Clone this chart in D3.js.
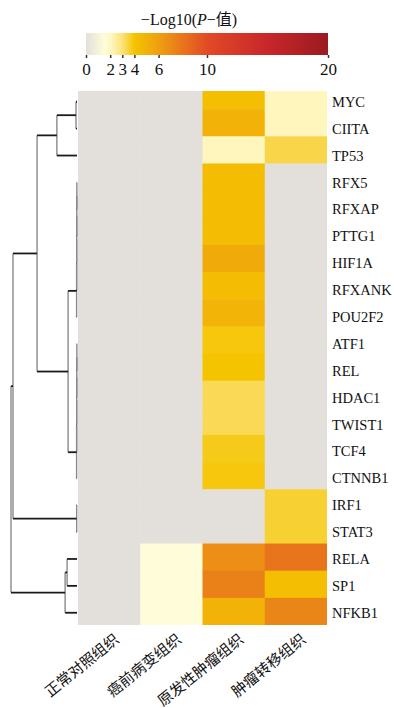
<!DOCTYPE html>
<html>
<head>
<meta charset="utf-8">
<script src="https://cdn.jsdelivr.net/npm/d3@7"></script>
<style>
  html, body { margin: 0; padding: 0; background: #fff; }
  svg { display: block; }
</style>
</head>
<body>
<div id="chart"></div>
<script>
// genes (rows, top to bottom) and tissue groups (columns)
const rowNames = ['MYC', 'CIITA', 'TP53', 'RFX5', 'RFXAP', 'PTTG1', 'HIF1A', 'RFXANK', 'POU2F2',
  'ATF1', 'REL', 'HDAC1', 'TWIST1', 'TCF4', 'CTNNB1', 'IRF1', 'STAT3', 'RELA', 'SP1', 'NFKB1'];
const colNames = ['正常对照组织', '癌前病变组织', '原发性肿瘤组织', '肿瘤转移组织'];

// -log10(P) per column
const normalVals     = [0, 0, 0, 0, 0, 0, 0, 0, 0, 0, 0, 0, 0, 0, 0, 0, 0, 0, 0, 0];
const precancerVals  = [0, 0, 0, 0, 0, 0, 0, 0, 0, 0, 0, 0, 0, 0, 0, 0, 0, 1.5, 1.5, 1.5];
const primaryVals    = [4.3, 5.0, 2.1, 4.4, 4.4, 4.4, 5.4, 4.4, 4.9, 3.9, 4.0, 3.3, 3.3, 3.8, 3.9, 0, 0, 6.8, 7.5, 5.0];
const metastasisVals = [2.1, 2.1, 3.4, 0, 0, 0, 0, 0, 0, 0, 0, 0, 0, 0, 0, 3.6, 3.6, 8.0, 4.3, 7.2];

// colour key
const colorStops  = [0, 1.5, 2, 3, 4, 6, 10, 15, 20];
const colorValues = ['#e3e0dc', '#fffcd9', '#fff8c4', '#fbe27a', '#f5c400', '#eea010', '#e24a26', '#c8262a', '#9a1b20'];
const keyTicks = [0, 2, 3, 4, 6, 10, 20];

// row clustering: [height, left, right]
const rowTree = [20,
  [19.4,
    [12.1,
      [6.1, [0.3, 'MYC', 'CIITA'], 'TP53'],
      [2.7,
        [0.12, [0.1, [0.08, [0.06, [0.04, 'RFX5', 'RFXAP'], 'PTTG1'], 'HIF1A'], 'RFXANK'], 'POU2F2'],
        [0.12, [0.1, [0.08, [0.06, [0.04, 'ATF1', 'REL'], 'HDAC1'], 'TWIST1'], 'TCF4'], 'CTNNB1']]],
    [0.1, 'IRF1', 'STAT3']],
  [3.6, [3.0, 'RELA', 'SP1'], 'NFKB1']];

const width = 394, height = 708;
const serif = '"Liberation Serif", "Times New Roman", "Noto Sans CJK SC", serif';

const svg = d3.select('#chart').append('svg')
  .attr('width', width)
  .attr('height', height);

const x = d3.scaleBand().domain(colNames).range([78, 327]);
const yCell = d3.scaleBand().domain(rowNames).range([82, 625]);
const yLab = d3.scaleBand().domain(rowNames).range([88.3, 626.2]);
const color = d3.scaleLinear().domain(colorStops).range(colorValues).clamp(true);

const columns = [normalVals, precancerVals, primaryVals, metastasisVals];
const cells = [];
columns.forEach((vals, c) => {
  vals.forEach((v, r) => cells.push({ col: colNames[c], row: rowNames[r], value: v }));
});

svg.append('clipPath').attr('id', 'heatClip')
  .append('rect')
  .attr('x', 78).attr('y', 91)
  .attr('width', 249).attr('height', 534);

svg.append('g')
  .attr('clip-path', 'url(#heatClip)')
  .selectAll('rect')
  .data(cells)
  .join('rect')
  .attr('x', d => x(d.col))
  .attr('y', d => yCell(d.row))
  .attr('width', x.bandwidth() + 0.5)
  .attr('height', yCell.bandwidth() + 0.5)
  .attr('fill', d => color(d.value));

// row labels
svg.append('g')
  .selectAll('text')
  .data(rowNames)
  .join('text')
  .attr('x', 332)
  .attr('y', d => yLab(d) + yLab.bandwidth() / 2)
  .attr('dy', '0.35em')
  .attr('font-family', serif)
  .attr('font-size', 14.5)
  .attr('fill', '#111')
  .text(d => d);

// column labels
svg.append('g')
  .selectAll('text')
  .data(colNames)
  .join('text')
  .attr('transform', d => `translate(${x(d) + x.bandwidth() / 2 + 11},${641}) rotate(-39)`)
  .attr('text-anchor', 'end')
  .attr('font-family', serif)
  .attr('font-size', 15)
  .attr('fill', '#111')
  .text(d => d);

// dendrogram
const root = d3.hierarchy(rowTree, d => Array.isArray(d) ? d.slice(1) : null);
const xh = d3.scaleLinear().domain([0, 20]).range([77, 11]);
root.eachAfter(n => {
  if (n.children) {
    n.px = xh(n.data[0]);
    n.py = d3.mean(n.children, c => c.py);
  } else {
    n.px = xh(0);
    n.py = yLab(n.data) + yLab.bandwidth() / 2;
  }
});
const dendro = svg.append('g');
const inner = root.descendants().filter(n => n.children);
dendro.selectAll('line.v')
  .data(inner)
  .join('line')
  .attr('class', 'v')
  .attr('x1', n => n.px).attr('x2', n => n.px)
  .attr('y1', n => d3.min(n.children, c => c.py))
  .attr('y2', n => d3.max(n.children, c => c.py))
  .attr('stroke', '#8a8a8a')
  .attr('stroke-width', 1.4);
dendro.selectAll('line.h')
  .data(root.links())
  .join('line')
  .attr('class', 'h')
  .attr('x1', l => l.source.px).attr('x2', l => l.target.px)
  .attr('y1', l => l.target.py).attr('y2', l => l.target.py)
  .attr('stroke', '#1a1a1a')
  .attr('stroke-width', 1.8);

// colour key
const kx = d3.scaleLinear().domain([0, 20]).range([86, 328]);
const grad = svg.append('defs').append('linearGradient')
  .attr('id', 'keyGrad')
  .attr('x1', '0%').attr('x2', '100%').attr('y1', '0%').attr('y2', '0%');
grad.selectAll('stop')
  .data(d3.range(0, 20.01, 0.5))
  .join('stop')
  .attr('offset', d => (d / 20 * 100) + '%')
  .attr('stop-color', d => color(d));

svg.append('rect')
  .attr('x', kx(0)).attr('y', 33)
  .attr('width', kx(20) - kx(0)).attr('height', 22)
  .attr('fill', 'url(#keyGrad)');

const keyAxis = svg.append('g')
  .attr('transform', 'translate(0,55)')
  .call(d3.axisBottom(kx).tickValues(keyTicks).tickSize(3).tickPadding(5).tickFormat(d3.format('d')));
keyAxis.select('.domain').remove();
keyAxis.selectAll('.tick line').attr('stroke', '#333').attr('stroke-width', 1.5);
keyAxis.selectAll('.tick text')
  .attr('font-family', serif)
  .attr('font-size', 17)
  .attr('fill', '#111');

const title = svg.append('text')
  .attr('x', 189).attr('y', 25)
  .attr('text-anchor', 'middle')
  .attr('font-family', serif)
  .attr('font-size', 16)
  .attr('fill', '#111');
title.append('tspan').text('−Log10(');
title.append('tspan').attr('font-style', 'italic').text('P');
title.append('tspan').text('−值)');
</script>
</body>
</html>
